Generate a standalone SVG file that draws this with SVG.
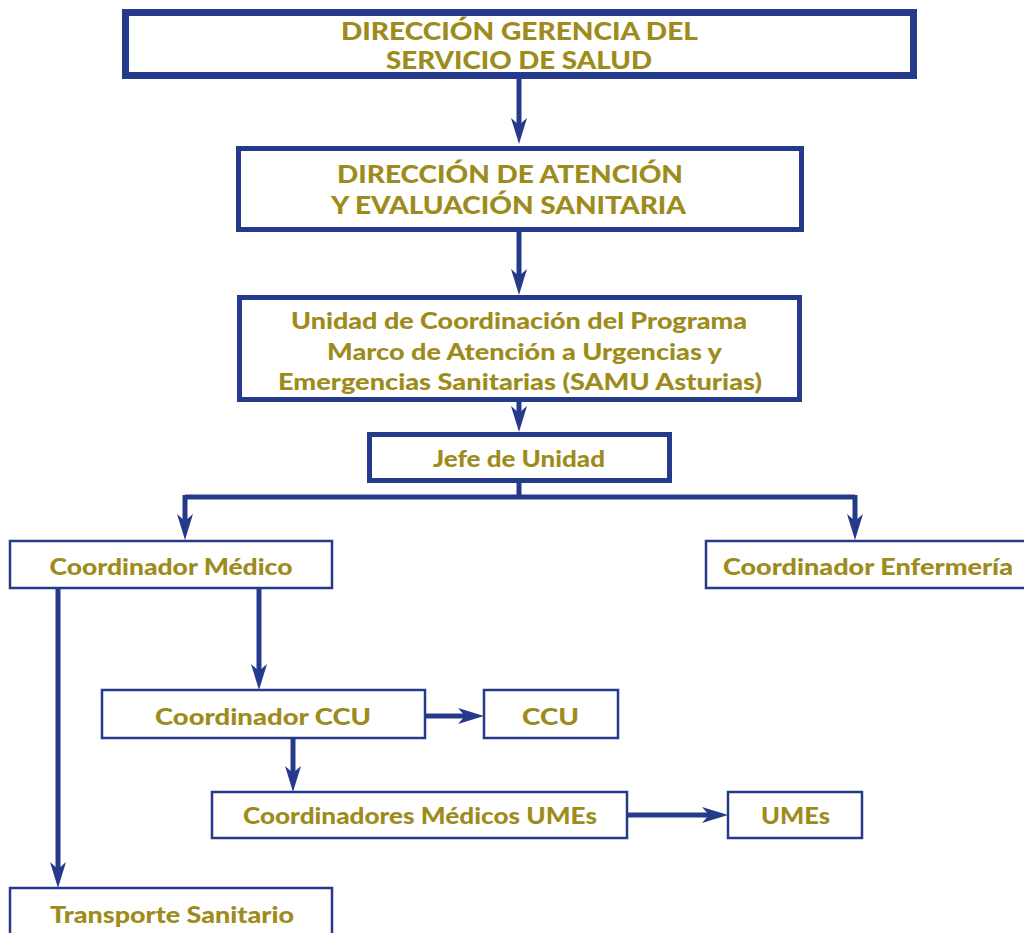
<svg xmlns="http://www.w3.org/2000/svg" width="1024" height="933" viewBox="0 0 1024 933">
<style>
.box{fill:#fff;stroke:#263a8c}
.thick{stroke-width:7}
.mid{stroke-width:5}
.thin{stroke-width:2.5}
text{font-family:Lato,"Open Sans","Liberation Sans",sans-serif;font-weight:900;fill:#9d8c1c;text-anchor:middle;dominant-baseline:central}
.cap{font-size:25px}
.t{font-size:23px}
.con{fill:none;stroke:#263a8c;stroke-width:5}
</style>
<defs>
<marker id="ah" viewBox="0 0 26 16" refX="14" refY="8" markerWidth="26" markerHeight="16" markerUnits="userSpaceOnUse" orient="auto">
<path d="M0,0 L26,8 L0,16 L7,8 z" fill="#263a8c"/>
</marker>
</defs>
<rect width="1024" height="933" fill="#fff"/>
<g id="connectors">
<line class="con" x1="519" y1="79" x2="519" y2="132" marker-end="url(#ah)"/>
<line class="con" x1="519" y1="232" x2="519" y2="283" marker-end="url(#ah)"/>
<line class="con" x1="519" y1="402" x2="519" y2="420" marker-end="url(#ah)"/>
<path class="con" d="M519,482 V497"/>
<path class="con" d="M185,497 H855"/>
<line class="con" x1="185" y1="495" x2="185" y2="528" marker-end="url(#ah)"/>
<line class="con" x1="855" y1="495" x2="855" y2="528" marker-end="url(#ah)"/>
<line class="con" x1="58" y1="588" x2="58" y2="876" marker-end="url(#ah)"/>
<line class="con" x1="259" y1="588" x2="259" y2="678" marker-end="url(#ah)"/>
<line class="con" x1="425" y1="716" x2="472" y2="716" marker-end="url(#ah)"/>
<line class="con" x1="293" y1="738" x2="293" y2="780" marker-end="url(#ah)"/>
<line class="con" x1="627" y1="815" x2="716" y2="815" marker-end="url(#ah)"/>
</g>
<g id="n1"><rect class="box thick" x="125.5" y="12.5" width="788" height="63"/>
<text class="cap" x="519.5" y="30" textLength="357" lengthAdjust="spacingAndGlyphs">DIRECCIÓN GERENCIA DEL</text>
<text class="cap" x="519" y="59" textLength="266" lengthAdjust="spacingAndGlyphs">SERVICIO DE SALUD</text></g>
<g id="n2"><rect class="box mid" x="238.5" y="148.5" width="563" height="81"/>
<text class="cap" x="510" y="173" textLength="346" lengthAdjust="spacingAndGlyphs">DIRECCIÓN DE ATENCIÓN</text>
<text class="cap" x="508.5" y="204" textLength="355" lengthAdjust="spacingAndGlyphs">Y EVALUACIÓN SANITARIA</text></g>
<g id="n3"><rect class="box mid" x="239.5" y="297.5" width="560" height="102"/>
<text class="t" x="519" y="320" textLength="456" lengthAdjust="spacingAndGlyphs">Unidad de Coordinación del Programa</text>
<text class="t" x="524.5" y="351" textLength="395" lengthAdjust="spacingAndGlyphs">Marco de Atención a Urgencias y</text>
<text class="t" x="520" y="381" textLength="484" lengthAdjust="spacingAndGlyphs">Emergencias Sanitarias (SAMU Asturias)</text></g>
<g id="n4"><rect class="box mid" x="369.5" y="434.5" width="300" height="46"/>
<text class="t" x="519" y="458" textLength="172" lengthAdjust="spacingAndGlyphs">Jefe de Unidad</text></g>
<g id="n5"><rect class="box thin" x="10" y="541" width="322" height="47"/>
<text class="t" x="171" y="566" textLength="243" lengthAdjust="spacingAndGlyphs">Coordinador Médico</text></g>
<g id="n6"><rect class="box thin" x="706" y="541" width="330" height="47"/>
<text class="t" x="868" y="566" textLength="290" lengthAdjust="spacingAndGlyphs">Coordinador Enfermería</text></g>
<g id="n7"><rect class="box thin" x="102" y="690" width="323" height="48"/>
<text class="t" x="263" y="716" textLength="216" lengthAdjust="spacingAndGlyphs">Coordinador CCU</text></g>
<g id="n8"><rect class="box thin" x="484" y="690" width="134" height="48"/>
<text class="t" x="550.5" y="716" textLength="57" lengthAdjust="spacingAndGlyphs">CCU</text></g>
<g id="n9"><rect class="box thin" x="212" y="792" width="415" height="46"/>
<text class="t" x="420" y="815" textLength="354" lengthAdjust="spacingAndGlyphs">Coordinadores Médicos UMEs</text></g>
<g id="n10"><rect class="box thin" x="728" y="792" width="134" height="46"/>
<text class="t" x="795.5" y="815" textLength="69" lengthAdjust="spacingAndGlyphs">UMEs</text></g>
<g id="n11"><rect class="box thin" x="10" y="888" width="322" height="60"/>
<text class="t" x="172" y="914" textLength="244" lengthAdjust="spacingAndGlyphs">Transporte Sanitario</text></g>
</svg>
